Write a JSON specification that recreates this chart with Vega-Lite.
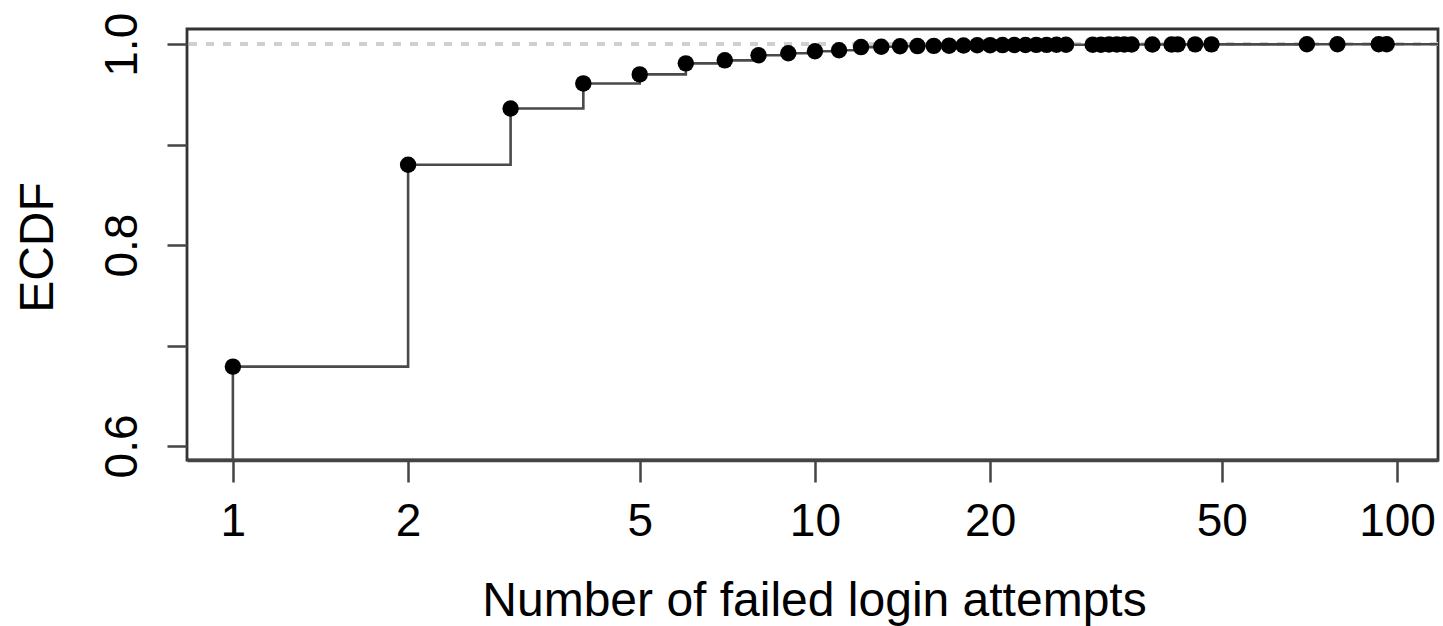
{
  "$schema": "https://vega.github.io/schema/vega-lite/v6.json",
  "width": 1251,
  "height": 431,
  "autosize": {"type": "none"},
  "padding": {"left": 187, "top": 29, "right": 5, "bottom": 166},
  "background": "white",
  "config": {
    "view": {"stroke": "#333", "strokeWidth": 2.8},
    "font": "Liberation Sans",
    "axis": {
      "grid": false,
      "labelFont": "Liberation Sans",
      "titleFont": "Liberation Sans",
      "labelFontSize": 46,
      "titleFontSize": 48,
      "labelColor": "#000",
      "titleColor": "#000",
      "titleFontWeight": "normal",
      "tickColor": "#444",
      "tickWidth": 2.5,
      "labelOverlap": false,
      "labelFlush": false,
      "labelBound": false
    }
  },
  "data": {
    "values": [
      {"attempts": 0.5, "ecdf": 0, "kind": "end"},
      {"attempts": 1, "ecdf": 0.679, "kind": "obs"},
      {"attempts": 2, "ecdf": 0.880, "kind": "obs"},
      {"attempts": 3, "ecdf": 0.936, "kind": "obs"},
      {"attempts": 4, "ecdf": 0.961, "kind": "obs"},
      {"attempts": 5, "ecdf": 0.970, "kind": "obs"},
      {"attempts": 6, "ecdf": 0.981, "kind": "obs"},
      {"attempts": 7, "ecdf": 0.984, "kind": "obs"},
      {"attempts": 8, "ecdf": 0.989, "kind": "obs"},
      {"attempts": 9, "ecdf": 0.991, "kind": "obs"},
      {"attempts": 10, "ecdf": 0.993, "kind": "obs"},
      {"attempts": 11, "ecdf": 0.994, "kind": "obs"},
      {"attempts": 12, "ecdf": 0.9972, "kind": "obs"},
      {"attempts": 13, "ecdf": 0.9975, "kind": "obs"},
      {"attempts": 14, "ecdf": 0.998, "kind": "obs"},
      {"attempts": 15, "ecdf": 0.9982, "kind": "obs"},
      {"attempts": 16, "ecdf": 0.9984, "kind": "obs"},
      {"attempts": 17, "ecdf": 0.9986, "kind": "obs"},
      {"attempts": 18, "ecdf": 0.9988, "kind": "obs"},
      {"attempts": 19, "ecdf": 0.999, "kind": "obs"},
      {"attempts": 20, "ecdf": 0.9991, "kind": "obs"},
      {"attempts": 21, "ecdf": 0.9992, "kind": "obs"},
      {"attempts": 22, "ecdf": 0.9993, "kind": "obs"},
      {"attempts": 23, "ecdf": 0.9993, "kind": "obs"},
      {"attempts": 24, "ecdf": 0.9994, "kind": "obs"},
      {"attempts": 25, "ecdf": 0.9994, "kind": "obs"},
      {"attempts": 26, "ecdf": 0.9995, "kind": "obs"},
      {"attempts": 27, "ecdf": 0.9995, "kind": "obs"},
      {"attempts": 30, "ecdf": 0.9996, "kind": "obs"},
      {"attempts": 31, "ecdf": 0.9996, "kind": "obs"},
      {"attempts": 32, "ecdf": 0.9997, "kind": "obs"},
      {"attempts": 33, "ecdf": 0.9997, "kind": "obs"},
      {"attempts": 34, "ecdf": 0.9997, "kind": "obs"},
      {"attempts": 35, "ecdf": 0.9998, "kind": "obs"},
      {"attempts": 38, "ecdf": 0.9998, "kind": "obs"},
      {"attempts": 41, "ecdf": 0.9998, "kind": "obs"},
      {"attempts": 42, "ecdf": 0.9999, "kind": "obs"},
      {"attempts": 45, "ecdf": 0.9999, "kind": "obs"},
      {"attempts": 48, "ecdf": 0.9999, "kind": "obs"},
      {"attempts": 70, "ecdf": 0.99995, "kind": "obs"},
      {"attempts": 79, "ecdf": 0.99997, "kind": "obs"},
      {"attempts": 93, "ecdf": 0.99998, "kind": "obs"},
      {"attempts": 96, "ecdf": 1.0, "kind": "obs"},
      {"attempts": 150, "ecdf": 1.0, "kind": "end"}
    ]
  },
  "encoding": {
    "x": {
      "field": "attempts",
      "type": "quantitative",
      "scale": {"type": "log", "domain": [0.834, 117.6], "nice": false},
      "axis": {
        "values": [1, 2, 5, 10, 20, 50, 100],
        "format": "d",
        "title": "Number of failed login attempts",
        "tickSize": 22,
        "labelPadding": 53,
        "labelBaseline": "alphabetic",
        "domain": true,
        "domainColor": "#444",
        "domainWidth": 3.5,
        "titleBaseline": "alphabetic",
        "titleX": 627,
        "titleY": 155
      }
    },
    "y": {
      "field": "ecdf",
      "type": "quantitative",
      "scale": {"domain": [0.586, 1.0152], "nice": false, "zero": false},
      "axis": {
        "values": [0.6, 0.7, 0.8, 0.9, 1.0],
        "labelExpr": "(round(datum.value*10) % 2 == 0) ? format(datum.value, '.1f') : ''",
        "title": "ECDF",
        "tickSize": 20,
        "labelAngle": 270,
        "labelAlign": "center",
        "labelBaseline": "alphabetic",
        "labelPadding": 31,
        "domain": false,
        "titleAngle": 270,
        "titleAlign": "center",
        "titleBaseline": "alphabetic",
        "titleX": -135,
        "titleY": 218
      }
    }
  },
  "layer": [
    {
      "mark": {"type": "rule", "color": "#cfcfcf", "strokeWidth": 3, "strokeDash": [8, 9]},
      "encoding": {"y": {"datum": 1}, "x": null}
    },
    {
      "mark": {"type": "line", "interpolate": "step-after", "color": "#4a4a4a", "strokeWidth": 2.6, "clip": true}
    },
    {
      "transform": [{"filter": "datum.kind == 'obs'"}],
      "mark": {"type": "point", "filled": true, "color": "#000", "size": 270, "opacity": 1}
    }
  ]
}
